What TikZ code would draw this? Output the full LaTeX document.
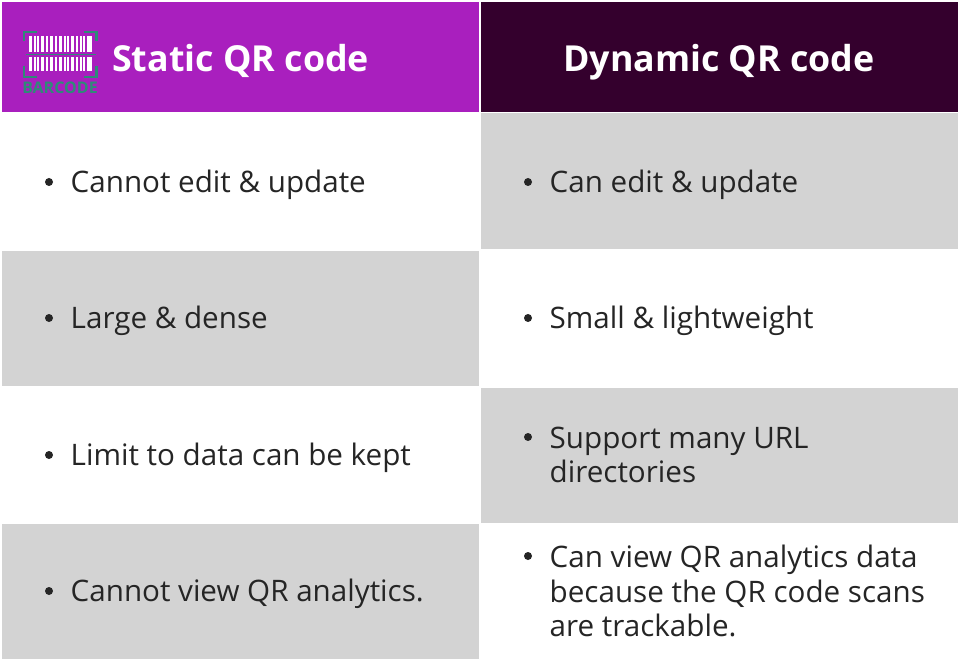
\documentclass[tikz,border=0pt]{standalone}
\usepackage{fontspec}
\usepackage{xcolor}
\setmainfont{Open Sans}
\usetikzlibrary{positioning}
\definecolor{staticpurple}{HTML}{A91FBE}
\definecolor{dynamicplum}{HTML}{34002D}
\definecolor{cellgray}{HTML}{D3D3D3}
\definecolor{textdark}{HTML}{252525}
\definecolor{barcodegreen}{HTML}{2F8A78}
\tikzset{
    cell/.style={minimum width=477pt, minimum height=135pt, inner sep=0pt, outer sep=0pt},
    head/.style={font=\fontsize{35.8}{40}\selectfont\bfseries, text=white, inner sep=0pt, anchor=base},
    bullet/.style={circle, fill=textdark, minimum size=8pt, inner sep=0pt},
    entry/.style={font=\fontsize{29.6}{34.7}\selectfont, text=textdark, inner sep=0pt, anchor=west, align=left},
    bracket/.style={draw=barcodegreen, line width=2.6pt}
}
\begin{document}
\begin{tikzpicture}[x=1pt, y=1pt]

        \def\leftx{240.5}
        \def\rightx{719.5}

        \useasboundingbox (0, 0) rectangle (960, -660);
        \fill[white] (0, 0) rectangle (960, -660);

        \node[cell, fill=staticpurple, minimum height=110pt] (statichead) at (\leftx, -57) {};
        \node[cell, fill=dynamicplum, minimum height=110pt] (dynamichead) at (\rightx, -57) {};

        \node[cell, fill=white] (leftone) at (\leftx, -182) {};
        \node[cell, fill=cellgray] (lefttwo) at (\leftx, -318) {};
        \node[cell, fill=white] (leftthree) at (\leftx, -455) {};
        \node[cell, fill=cellgray] (leftfour) at (\leftx, -591) {};
        \node[cell, fill=cellgray] (rightone) at (\rightx, -181) {};
        \node[cell, fill=white] (righttwo) at (\rightx, -318) {};
        \node[cell, fill=cellgray] (rightthree) at (\rightx, -455) {};
        \node[cell, fill=white] (rightfour) at (\rightx, -591) {};

        \node[head, anchor=base west] (statictitle) at (112, -71.5) {Static QR code};
        \node[head] (dynamictitle) at (719, -71.5) {Dynamic QR code};

        % barcode
        \foreach \x/\w in {29/3, 34/1.5, 37/1.5, 41/3, 46/1.5, 50/3, 55/1.5, 59/3, 64/1.5, 67/1.5, 71/3, 76/1.5, 80/1.5, 83/1.5, 87/5} {
                \fill[white] (\x, -36) rectangle (\x + \w, -52);
                \fill[white] (\x, -57) rectangle (\x + \w, -71);
            }
        \draw[barcodegreen, line width=0.5pt] (26, -54.5) -- (96, -54.5);
        \draw[bracket] (24, -41) -- (24, -32) -- (37, -32);
        \draw[bracket] (84, -32) -- (96.5, -32) -- (96.5, -41);
        \draw[bracket] (24, -66) -- (24, -77) -- (37, -77);
        \draw[bracket] (84, -77) -- (96.5, -77) -- (96.5, -66);
        \node[font=\fontsize{16}{18}\selectfont\bfseries, text=barcodegreen, inner sep=0pt, anchor=base] (barcodelabel) at (60, -93.5) {BARCODE};

        \node[bullet] (bulletone) at (49, -182) {};
        \node[entry] (textone) at (70.5, -185) {Cannot edit \& update};
        \node[bullet] (bullettwo) at (49, -318) {};
        \node[entry] (texttwo) at (70.5, -321) {Large \& dense};
        \node[bullet] (bulletthree) at (49, -455) {};
        \node[entry] (textthree) at (70.5, -458) {Limit to data can be kept};
        \node[bullet] (bulletfour) at (49, -591) {};
        \node[entry] (textfour) at (70.5, -594) {Cannot view QR analytics.};

        \node[bullet] (bulletfive) at (528, -182) {};
        \node[entry] (textfive) at (549.5, -185) {Can edit \& update};
        \node[bullet] (bulletsix) at (528, -318) {};
        \node[entry] (textsix) at (549.5, -321) {Small \& lightweight};
        \node[bullet] (bulletseven) at (528, -437) {};
        \node[entry] (textseven) at (549.5, -455) {Support many URL\\directories};
        \node[bullet] (bulleteight) at (528, -556) {};
        \node[entry] (texteight) at (549.5, -591) {Can view QR analytics data\\because the QR code scans\\are trackable.};

    \end{tikzpicture}
\end{document}
